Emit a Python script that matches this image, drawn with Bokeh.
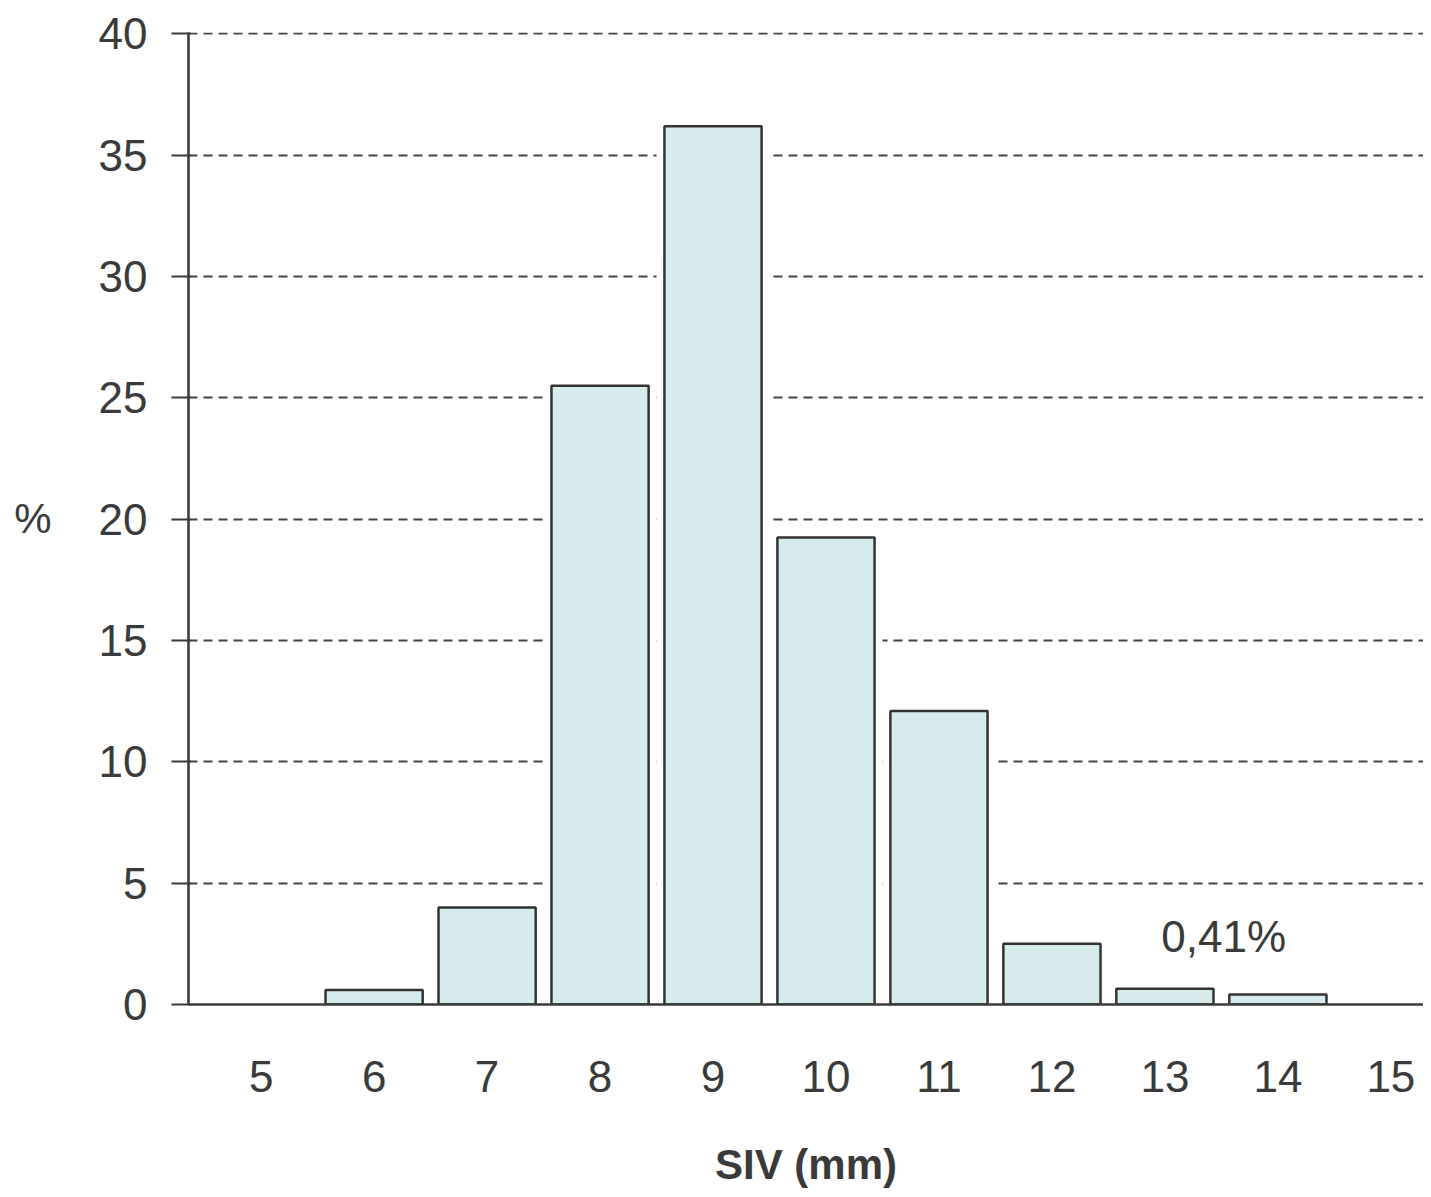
from bokeh.plotting import figure
from bokeh.models import Range1d, Label, FixedTicker
from bokeh.embed import file_html
from bokeh.resources import INLINE

siv_mm = [6, 7, 8, 9, 10, 11, 12, 13, 14]
percent = [0.6, 4.0, 25.5, 36.2, 19.25, 12.1, 2.5, 0.65, 0.41]
x_ticks = [5, 6, 7, 8, 9, 10, 11, 12, 13, 14, 15]
y_ticks = [0, 5, 10, 15, 20, 25, 30, 35, 40]
annotation_text = "0,41%"
annotation_x = 13.52
annotation_y = 2.8

FONT = "Liberation Sans"
GRAY = "#3a3a3a"
TXT = "#3a3a3a"

p = figure(width=1423, height=1190, output_backend="svg", toolbar_location=None,
           x_range=Range1d(4.357, 15.289), y_range=Range1d(0, 40.06),
           min_border_left=188, min_border_right=0, min_border_top=32, min_border_bottom=182)
p.outline_line_color = None
p.background_fill_color = "white"

# white halo to interrupt the dashed gridlines around bars
p.vbar(x=siv_mm, top=percent, width=1.0, bottom=0, fill_color="white", line_color=None)
p.vbar(x=siv_mm, top=percent, width=0.86, bottom=0, fill_color="#d6ecec",
       line_color="#333333", line_width=2.5)

p.xgrid.grid_line_color = None
p.ygrid.grid_line_color = "#444444"
p.ygrid.grid_line_dash = "9 6"
p.ygrid.grid_line_width = 2

p.yaxis.ticker = FixedTicker(ticks=y_ticks)
p.xaxis.ticker = FixedTicker(ticks=x_ticks)

for ax in (p.xaxis[0], p.yaxis[0]):
    ax.axis_line_color = GRAY
    ax.axis_line_width = 2.6
    ax.major_label_text_font = FONT
    ax.major_label_text_font_size = "44px"
    ax.major_label_text_color = TXT
    ax.minor_tick_line_color = None

p.yaxis.major_tick_line_color = GRAY
p.yaxis.major_tick_line_width = 2.2
p.yaxis.major_tick_out = 17
p.yaxis.major_tick_in = 2
p.yaxis.major_label_standoff = 24
p.yaxis.axis_label = "%"
p.yaxis.axis_label_text_font = FONT
p.yaxis.axis_label_text_font_size = "42px"
p.yaxis.axis_label_text_color = TXT
p.yaxis.axis_label_text_font_style = "normal"
p.yaxis.axis_label_standoff = 44
try:
    p.yaxis.axis_label_orientation = "horizontal"
except Exception:
    pass

p.xaxis.major_tick_line_color = None
p.xaxis.major_label_standoff = 50
p.xaxis.axis_label = "SIV (mm)"
p.xaxis.axis_label_text_font = FONT
p.xaxis.axis_label_text_font_style = "bold"
p.xaxis.axis_label_text_font_size = "42px"
p.xaxis.axis_label_text_color = TXT
p.xaxis.axis_label_standoff = 46

p.add_layout(Label(x=annotation_x, y=annotation_y, text=annotation_text, text_font=FONT,
                   text_font_size="44px", text_color=TXT, text_align="center",
                   text_baseline="middle"))

open("out.html", "w").write(file_html(p, INLINE))
